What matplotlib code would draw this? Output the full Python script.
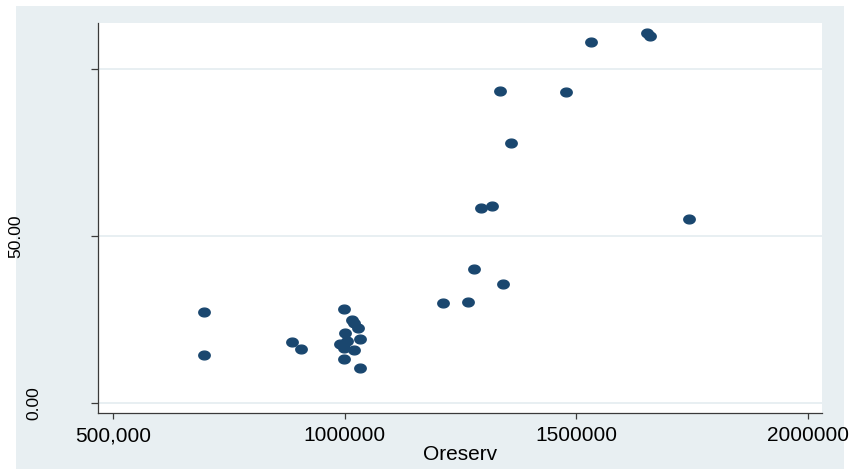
import matplotlib.pyplot as plt
import matplotlib.transforms as mtransforms
from matplotlib.patches import Rectangle
from matplotlib.path import Path
import numpy as np

plt.rcParams['font.family'] = ['Liberation Sans', 'DejaVu Sans']

# ore reserves vs. outcome
oreserv = [695500, 697000, 886800, 906300,
           998500, 1016700, 1020100, 1029600, 1000700, 1033100,
           1005800, 989800, 998500, 1020100, 997800, 1033100,
           1212000, 1266200, 1278000, 1341000, 1294400, 1318200,
           1357800, 1334800, 1476800, 1530900, 1651500, 1658700, 1742400]
yval = [27.3, 14.3, 18.3, 16.1,
        28.1, 24.9, 23.9, 22.5, 20.9, 19.2,
        18.6, 17.7, 16.4, 15.8, 13.1, 10.4,
        29.9, 30.2, 40.2, 35.6, 58.4, 58.9,
        77.8, 93.5, 93.1, 108.0, 110.7, 109.9, 55.1]

xticks = [500000, 1000000, 1500000, 2000000]
xticklabels = ['500,000', '1000000', '1500000', '2000000']
yticks = [0, 50, 100]

W, H = 852, 475
fig = plt.figure(figsize=(W / 100, H / 100), dpi=100)
fig.patch.set_facecolor('white')
# light panel behind the plot region
panel = Rectangle((16 / W, 1 - 469 / H), 828 / W, 463 / H,
                  transform=fig.transFigure, facecolor='#e8eff2',
                  edgecolor='none', zorder=-5)
fig.add_artist(panel)

ax = fig.add_axes([98 / W, 1 - 413 / H, (822 - 98) / W, (413 - 23) / H])
ax.set_zorder(2)
ax.set_facecolor('white')

# slightly flattened ellipse marker
t = np.linspace(0, 2 * np.pi, 60)
ell = Path(np.column_stack([1.3 * np.cos(t), np.sin(t)]), closed=True)
ax.plot(oreserv, yval, linestyle='none', marker=ell, markersize=8.2,
        color='#1a476f', zorder=3)

ax.set_xlim(467500, 2030000)
ax.set_ylim(-3, 113.8)

for y in yticks:
    ax.axhline(y, color='#e6eef1', lw=1.3, zorder=1)

ax.set_xticks(xticks)
ax.set_xticklabels(xticklabels, fontsize=15)
ax.set_yticks(yticks)
ax.set_yticklabels([])
ax.tick_params(axis='x', length=4.5, width=0.9, color='#3a3a3a', pad=5)
ax.tick_params(axis='y', length=5, width=0.9, color='#3a3a3a')

for s in ['top', 'right']:
    ax.spines[s].set_visible(False)
for s in ['left', 'bottom']:
    ax.spines[s].set_color('#3a3a3a')
    ax.spines[s].set_linewidth(0.9)

# y labels sit at their own offsets
tr = mtransforms.blended_transform_factory(fig.transFigure, ax.transData)
ax.text(33.5 / W, 0, '0.00', rotation=90, ha='center', va='center',
        fontsize=12.5, transform=tr)
ax.text(15.5 / W, 50, '50.00', rotation=90, ha='center', va='center',
        fontsize=12.5, transform=tr)

ax.set_xlabel('Oreserv', fontsize=15, labelpad=0)

fig.savefig('out.png', dpi=100, facecolor=fig.get_facecolor())
